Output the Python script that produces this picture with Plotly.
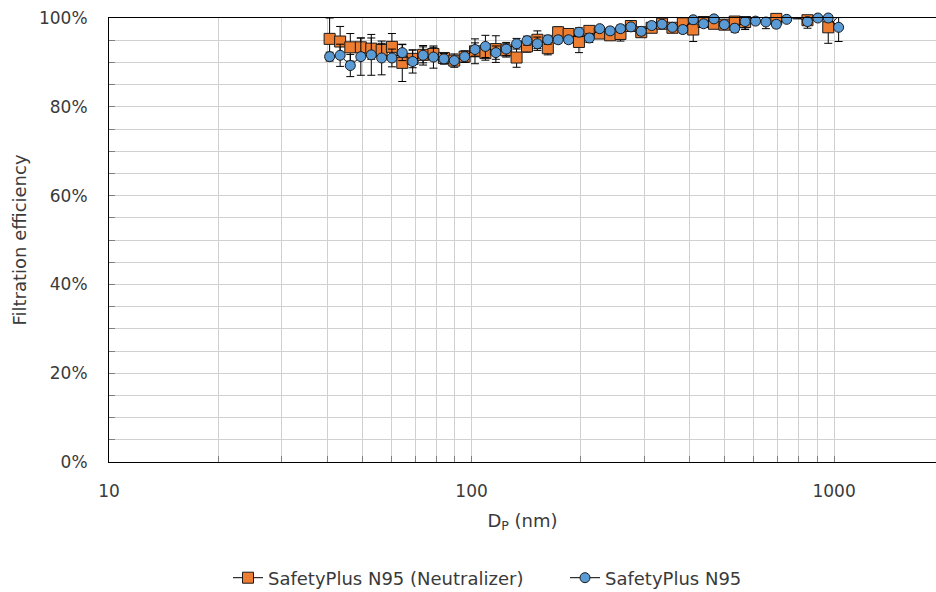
import math
import plotly.graph_objects as go

# Particle mobility diameter (nm)
diam_nm = [40.6, 43.4, 46.3, 49.5, 52.9, 56.5, 60.3, 64.4, 68.8, 73.5,
           78.5, 83.9, 89.6, 95.7, 102.2, 109.2, 116.7, 124.6, 133.1, 142.2,
           151.9, 162.3, 173.3, 185.2, 197.8, 211.3, 225.7, 241.1, 257.5, 275.1,
           293.8, 313.9, 335.3, 358.1, 382.6, 408.7, 436.5, 466.3, 498.1, 532.1,
           568.3, 607.1, 648.5, 692.7, 740.0, 790.4, 844.3, 901.9, 963.4, 1029.1]

# Filtration efficiency (%) – mask tested with charge neutralizer
eff_neutralizer = [95.3, 94.7, 93.4, 93.4, 93.1, 92.8, 93.5, 89.9, 90.8, 91.7,
                   91.9, 91.0, 90.4, 91.3, 92.5, 92.1, 93.0, 92.7, 91.1, 93.6,
                   95.1, 93.2, 96.8, 96.4, 94.6, 97.1, 96.5, 96.1, 96.4, 98.2,
                   96.8, 97.8, 98.7, 97.8, 98.8, 97.4, 99.1, 98.7, 98.5, 99.2,
                   99.1, 100.5, 100.3, 99.8, 100.5, 100.5, 99.5, 100.5, 97.9, 100.5]
err_neutralizer = [4.7, 3.4, 3.1, 2.1, 2.4, 1.5, 3.0, 4.2, 2.0, 1.8,
                   1.5, 1.2, 1.0, 1.2, 2.8, 1.6, 3.0, 1.5, 2.2, 1.3,
                   2.0, 1.5, 1.2, 1.0, 2.4, 1.0, 0.9, 1.0, 1.6, 0.8,
                   1.0, 0.7, 0.8, 0.8, 0.8, 2.7, 0.6, 0.8, 0.8, 0.6,
                   1.7, 0.5, 0.5, 0.6, 0.4, 0.5, 1.8, 0.4, 3.6, 0.4]

# Filtration efficiency (%) – mask tested without neutralizer
eff_plain = [91.3, 91.6, 89.3, 91.3, 91.7, 91.0, 91.0, 92.2, 90.2, 91.6,
             91.2, 90.8, 90.4, 91.3, 92.9, 93.6, 92.2, 93.0, 94.2, 94.9,
             94.2, 95.1, 95.1, 95.1, 96.8, 95.5, 97.6, 97.1, 97.6, 98.0,
             97.0, 98.3, 98.6, 97.9, 97.4, 99.6, 98.7, 99.8, 98.5, 97.7,
             99.2, 99.3, 99.1, 98.6, 99.7, 100.2, 99.2, 100.0, 100.0, 97.9]
err_plain = [1.0, 2.5, 2.5, 4.2, 4.6, 3.8, 2.0, 1.8, 2.6, 2.2,
             2.5, 1.2, 1.5, 1.3, 1.5, 2.5, 1.5, 1.5, 1.2, 1.0,
             1.5, 1.0, 0.8, 0.8, 1.0, 1.0, 0.6, 0.8, 0.8, 0.6,
             0.8, 0.6, 0.6, 0.7, 0.8, 0.5, 0.7, 0.4, 0.8, 0.9,
             1.7, 0.6, 1.5, 0.8, 0.5, 0.4, 0.6, 0.4, 0.4, 3.2]

x_tick_vals = [10, 20, 30, 40, 50, 60, 70, 80, 90,
               100, 200, 300, 400, 500, 600, 700, 800, 900, 1000]
x_tick_text = ["10", "", "", "", "", "", "", "", "",
               "100", "", "", "", "", "", "", "", "", "1000"]
y_tick_vals = [0, 5, 10, 15, 20, 25, 30, 35, 40, 45, 50,
               55, 60, 65, 70, 75, 80, 85, 90, 95, 100]
y_tick_text = ["0%", "", "", "", "20%", "", "", "", "40%", "", "",
               "", "60%", "", "", "", "80%", "", "", "", "100%"]

FONT = "'DejaVu Sans', 'Open Sans', sans-serif"
TXT = "#3a3a3a"
GRID = "#d0d0d0"

fig = go.Figure()
fig.add_trace(go.Scatter(
    x=diam_nm, y=eff_neutralizer, mode="lines+markers",
    name="SafetyPlus N95 (Neutralizer)",
    line=dict(color="#000000", width=1),
    marker=dict(symbol="square", size=11, color="#ED7D31",
                line=dict(color="#1a1a1a", width=1)),
    error_y=dict(type="data", array=err_neutralizer, color="#000000",
                 thickness=1, width=4),
    cliponaxis=False,
))
fig.add_trace(go.Scatter(
    x=diam_nm, y=eff_plain, mode="lines+markers",
    name="SafetyPlus N95",
    line=dict(color="#000000", width=1),
    marker=dict(symbol="circle", size=10, color="#5B9BD5",
                line=dict(color="#1a1a1a", width=1)),
    error_y=dict(type="data", array=err_plain, color="#000000",
                 thickness=1, width=4),
    cliponaxis=False,
))

fig.update_layout(
    width=936, height=592,
    margin=dict(l=109, r=0, t=18, b=130, autoexpand=False),
    paper_bgcolor="white", plot_bgcolor="white",
    font=dict(family=FONT, size=17, color=TXT),
    showlegend=True,
    legend=dict(orientation="h", xref="container", x=228 / 936,
                xanchor="left", yref="container", y=1 - 578 / 592,
                yanchor="middle", entrywidth=292, entrywidthmode="pixels",
                font=dict(size=18, color=TXT),
                bgcolor="rgba(0,0,0,0)"),
)
fig.update_xaxes(
    type="log", range=[1, math.log10(1910)],
    tickmode="array", tickvals=x_tick_vals, ticktext=x_tick_text,
    showgrid=True, gridcolor=GRID, gridwidth=1,
    showline=True, linecolor="#000000", linewidth=1, mirror=True,
    ticks="inside", ticklen=6, tickcolor="#7f7f7f",
    ticklabelstandoff=14, zeroline=False, tickfont=dict(size=17),
    title=dict(text="D<sub>P</sub> (nm)", standoff=13,
               font=dict(size=18, color=TXT)),
)
fig.update_yaxes(
    range=[0, 100],
    tickmode="array", tickvals=y_tick_vals, ticktext=y_tick_text,
    showgrid=True, gridcolor=GRID, gridwidth=1,
    showline=True, linecolor="#000000", linewidth=1, mirror=False,
    ticks="inside", ticklen=6, tickcolor="#7f7f7f",
    ticklabelstandoff=17, zeroline=False, tickfont=dict(size=17),
    title=dict(text="Filtration efficiency", standoff=7,
               font=dict(size=18, color=TXT)),
)

fig.write_html("out.html")
